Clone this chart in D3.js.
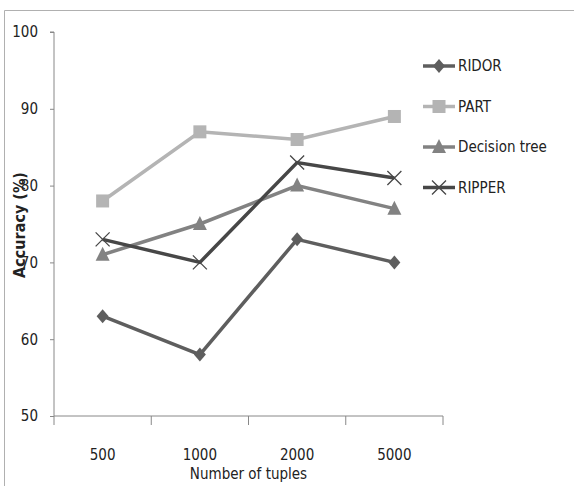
<!DOCTYPE html>
<html>
<head>
<meta charset="utf-8">
<script src="https://cdn.jsdelivr.net/npm/d3@7"></script>
<style>
  body { margin: 0; background: #fff; }
  text { font-family: "Liberation Sans Narrow", "DejaVu Sans Condensed", "Open Sans", sans-serif; fill: #222; }
</style>
</head>
<body>
<script>
// data
var tuples = ["500", "1000", "2000", "5000"];
var seriesNames = ["RIDOR", "PART", "Decision tree", "RIPPER"];
var ridor = [63, 58, 73, 70];
var part = [78, 87, 86, 89];
var decisionTree = [71, 75, 80, 77];
var ripper = [73, 70, 83, 81];
var yTicks = [50, 60, 70, 80, 90, 100];

var width = 574, height = 486;
var margin = {top: 32, left: 54, right: 131, bottom: 70};

var svg = d3.select("body").append("svg")
    .attr("width", width)
    .attr("height", height);

// outer frame (only top and left edges show)
svg.append("path")
    .attr("d", "M4.5," + height + "V10.5H" + width)
    .attr("fill", "none")
    .attr("stroke", "#b0b0b0");

var x = d3.scaleBand().domain(tuples).range([margin.left, width - margin.right]);
var y = d3.scaleLinear().domain([50, 100]).range([height - margin.bottom, margin.top]);

// y axis
var yAxis = svg.append("g")
    .attr("transform", "translate(" + margin.left + ",0)")
    .call(d3.axisLeft(y).tickValues(yTicks).tickSize(4).tickPadding(12));
yAxis.select(".domain").attr("stroke", "#888").attr("d", "M-4," + y(100) + "H0V" + y(50));
yAxis.selectAll(".tick line").attr("stroke", "#888");
yAxis.selectAll("text").style("font-size", "15px");

// x axis with ticks between categories
var xAxis = svg.append("g")
    .attr("transform", "translate(0," + y(50) + ")");
xAxis.append("line")
    .attr("x1", margin.left).attr("x2", width - margin.right)
    .attr("stroke", "#888");
var edges = tuples.map(function(t) { return x(t); }).concat([x(tuples[3]) + x.bandwidth()]);
xAxis.selectAll("line.tk").data(edges).enter().append("line")
    .attr("class", "tk")
    .attr("x1", function(d) { return d; }).attr("x2", function(d) { return d; })
    .attr("y1", 0).attr("y2", 9)
    .attr("stroke", "#888");
xAxis.selectAll("text").data(tuples).enter().append("text")
    .attr("x", function(d) { return x(d) + x.bandwidth() / 2; })
    .attr("y", 44)
    .attr("text-anchor", "middle")
    .style("font-size", "15px")
    .text(function(d) { return d; });

svg.append("text")
    .attr("x", (margin.left + width - margin.right) / 2)
    .attr("y", 479)
    .attr("text-anchor", "middle")
    .style("font-size", "15px")
    .text("Number of tuples");

svg.append("text")
    .attr("transform", "translate(25,225) rotate(-90)")
    .attr("text-anchor", "middle")
    .style("font-size", "16px")
    .style("font-weight", "bold")
    .text("Accuracy  (%)");

var series = [
  {name: seriesNames[0], values: ridor, color: "#5e5e5e", shape: "diamond"},
  {name: seriesNames[1], values: part, color: "#b4b4b4", shape: "square"},
  {name: seriesNames[2], values: decisionTree, color: "#828282", shape: "triangle"},
  {name: seriesNames[3], values: ripper, color: "#474747", shape: "cross"}
];

function marker(g, s, cx, cy) {
  if (s.shape === "diamond") {
    g.append("path").attr("d", "M" + cx + "," + (cy - 7) + "L" + (cx + 6) + "," + cy + "L" + cx + "," + (cy + 7) + "L" + (cx - 6) + "," + cy + "Z")
      .attr("fill", s.color);
  } else if (s.shape === "square") {
    g.append("rect").attr("x", cx - 6.5).attr("y", cy - 6.5).attr("width", 13).attr("height", 13).attr("fill", s.color);
  } else if (s.shape === "triangle") {
    g.append("path").attr("d", "M" + cx + "," + (cy - 8) + "L" + (cx + 7) + "," + (cy + 6) + "L" + (cx - 7) + "," + (cy + 6) + "Z")
      .attr("fill", s.color);
  } else {
    g.append("path").attr("d", "M" + (cx - 7) + "," + (cy - 7) + "L" + (cx + 7) + "," + (cy + 7) + "M" + (cx + 7) + "," + (cy - 7) + "L" + (cx - 7) + "," + (cy + 7))
      .attr("stroke", s.color).attr("stroke-width", 1.3).attr("fill", "none");
  }
}

var line = d3.line()
    .x(function(d, i) { return x(tuples[i]) + x.bandwidth() / 2; })
    .y(function(d) { return y(d); });

// draw lighter series first so darker ones sit on top
[1, 2, 0, 3].forEach(function(k) {
  var s = series[k];
  var g = svg.append("g");
  g.append("path")
    .attr("d", line(s.values))
    .attr("fill", "none")
    .attr("stroke", s.color)
    .attr("stroke-width", 3.5);
  s.values.forEach(function(v, i) {
    marker(g, s, x(tuples[i]) + x.bandwidth() / 2, y(v));
  });
});

// legend
var legend = svg.append("g");
series.forEach(function(s, i) {
  var ly = 66 + i * 40.5;
  var g = legend.append("g");
  g.append("line").attr("x1", 423).attr("x2", 455).attr("y1", ly).attr("y2", ly)
    .attr("stroke", s.color).attr("stroke-width", 3.5);
  marker(g, s, 439, ly);
  g.append("text").attr("x", 458).attr("y", ly + 5)
    .style("font-size", "15px")
    .text(s.name);
});
</script>
</body>
</html>
